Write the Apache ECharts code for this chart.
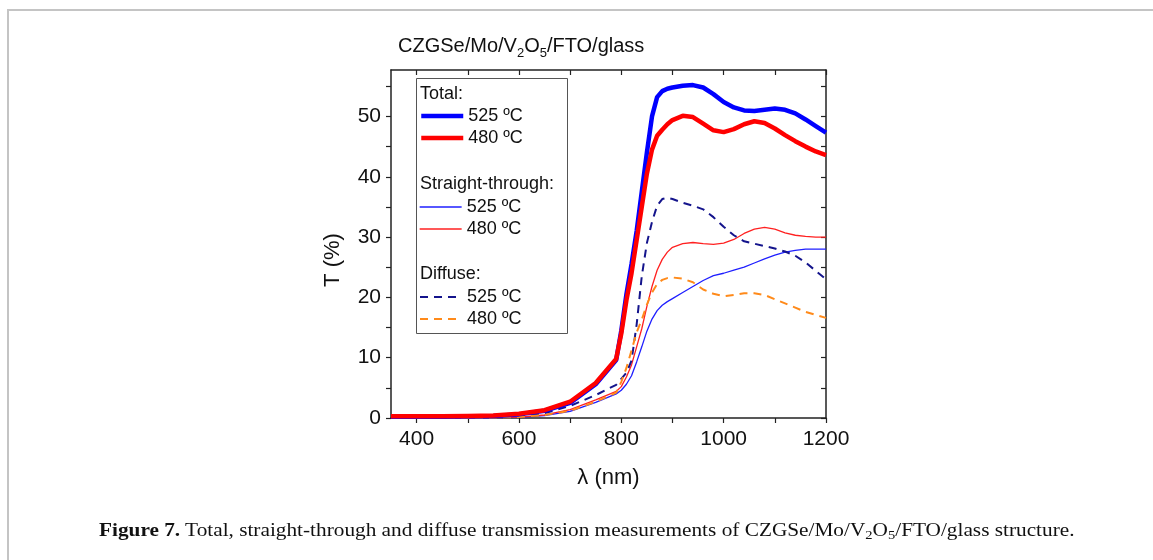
<!DOCTYPE html>
<html>
<head>
<meta charset="utf-8">
<script src="https://cdn.jsdelivr.net/npm/echarts@6/dist/echarts.min.js"></script>
<style>
  html, body { margin: 0; padding: 0; background: #fff; }
  #wrap { position: relative; width: 1153px; height: 560px; overflow: hidden; }
  #frame { position: absolute; left: 7px; top: 9px; width: 1200px; height: 600px;
           border-top: 2px solid #c4c4c4; border-left: 2px solid #c4c4c4; }
  #chart { position: absolute; left: 0; top: 0; width: 1153px; height: 560px; }
  #caption { position: absolute; left: 99px; top: 519px; white-space: nowrap;
             transform-origin: 0 0; transform: scaleX(1.12);
             font-family: "Liberation Serif", "DejaVu Serif", serif; font-size: 19px; color: #111; }
  #caption sub { font-size: 13px; vertical-align: -3px; line-height: 0; }
</style>
</head>
<body>
<div id="wrap">
  <div id="frame"></div>
  <div id="chart"></div>
  <div id="caption"><b>Figure 7.</b> Total, straight-through and diffuse transmission measurements of CZGSe/Mo/V<sub>2</sub>O<sub>5</sub>/FTO/glass structure.</div>
</div>
<script>
// ---- data ----
const wavelength = [350,400,450,500,550,600,650,700,750,790,800,810,820,830,840,850,860,870,880,890,900,920,940,960,980,1000,1020,1040,1060,1080,1100,1120,1140,1160,1180,1200];
const total525 = [0.2,0.2,0.2,0.3,0.35,0.6,1.2,2.5,5.6,9.6,14.5,20.5,25.5,31,37.5,44,50,53.2,54.2,54.6,54.8,55.1,55.2,54.8,53.7,52.4,51.5,51.0,50.9,51.1,51.3,51.1,50.5,49.5,48.4,47.3];
const total480 = [0.3,0.3,0.3,0.35,0.4,0.7,1.3,2.7,5.8,9.8,14,19.5,24,29.5,35,40.5,44.5,46.8,47.8,48.7,49.4,50.1,49.9,48.8,47.7,47.4,47.9,48.7,49.2,48.9,48.0,46.9,45.9,45.0,44.2,43.6];
const straight525 = [0,0,0,0,0.05,0.1,0.4,1.1,2.6,4.0,4.6,5.6,7.0,9.3,11.8,14.4,16.4,17.8,18.7,19.3,19.8,20.8,21.8,22.8,23.6,24.0,24.5,25.0,25.7,26.4,27.0,27.5,27.8,28.0,28.0,28.0];
const straight480 = [0,0,0,0,0.05,0.15,0.5,1.4,3.0,4.4,5.2,6.8,8.8,11.8,14.8,18.5,21.8,24.5,26.3,27.5,28.3,28.9,29.1,28.9,28.8,29.0,29.6,30.6,31.3,31.6,31.3,30.7,30.3,30.1,30.0,30.0];
const diffuse525 = [0.1,0.1,0.1,0.1,0.2,0.3,0.8,2.0,3.8,5.5,6.5,7.5,9.5,15.5,23.5,29,32.5,35.2,36.3,36.5,36.3,35.7,35.2,34.6,33.3,31.7,30.3,29.3,28.9,28.5,28.1,27.6,26.9,25.8,24.4,23.0];
const diffuse480 = [0.05,0.05,0.05,0.05,0.1,0.15,0.5,1.2,2.7,4.2,6.0,8.3,11.2,14.2,16.3,18.8,20.8,22.2,22.9,23.2,23.3,23.1,22.5,21.3,20.6,20.2,20.4,20.7,20.7,20.4,19.7,19.0,18.3,17.6,17.1,16.6];
const xTickValues = [400,500,600,700,800,900,1000,1100,1200];
const xLabelValues = [400,600,800,1000,1200];
const yTickValues = [0,5,10,15,20,25,30,35,40,45,50,55];
const yLabelValues = [0,10,20,30,40,50];
const legendHeaders = ['Total:', 'Straight-through:', 'Diffuse:'];
const tempLabels = ['525 ºC', '480 ºC'];

const pairs = ys => wavelength.map((x, i) => [x, ys[i]]);
const FONT = '"Liberation Sans", Arial, sans-serif';
const axisColor = '#222';

const chart = echarts.init(document.getElementById('chart'), null, {renderer: 'canvas'});

function mkSeries(name, ys, color, width, type) {
  return {
    name, type: 'line', data: pairs(ys), showSymbol: false, symbol: 'none',
    lineStyle: {color, width, type: type || 'solid'}, itemStyle: {color},
    emphasis: {disabled: true}, animation: false, z: 2
  };
}

const series = [
  mkSeries('S525', straight525, '#1f1fff', 1.3),
  mkSeries('S480', straight480, '#ff2020', 1.3),
  mkSeries('D525', diffuse525, '#14148c', 2, [8, 6]),
  mkSeries('D480', diffuse480, '#ff8a1a', 2, [8, 6]),
  mkSeries('T525', total525, '#0000ff', 4.5),
  mkSeries('T480', total480, '#ff0000', 4.5)
];

function mkLegend(items, top) {
  return {
    show: true, orient: 'vertical', left: 419, top, padding: 0,
    itemWidth: 42, itemHeight: 14, itemGap: 4, selectedMode: false,
    data: items,
    lineStyle: {width: 'inherit'},
    itemStyle: {color: 'rgba(0,0,0,0)', borderWidth: 0, opacity: 0},
    formatter: n => n.endsWith('525') ? tempLabels[0] : tempLabels[1],
    textStyle: {fontFamily: FONT, fontSize: 18, color: '#111', lineHeight: 18, padding: [0,0,0,0]}
  };
}

const option = {
  animation: false,
  backgroundColor: 'transparent',
  grid: {left: 391, right: 327, top: 70, bottom: 142, containLabel: false},
  title: {
    text: '{a|CZGSe/Mo/V}{s|2}{a|O}{s|5}{a|/FTO/glass}',
    left: 398, top: 32, padding: 0,
    textStyle: {
      fontWeight: 'normal',
      rich: {
        a: {fontFamily: FONT, fontSize: 20, fontWeight: 'normal', color: '#111', lineHeight: 28, verticalAlign: 'middle'},
        s: {fontFamily: FONT, fontSize: 13, fontWeight: 'normal', color: '#111', lineHeight: 13, verticalAlign: 'bottom'}
      }
    }
  },
  legend: [
    mkLegend(['T525', 'T480'], 107),
    mkLegend(['S525', 'S480'], 198),
    mkLegend(['D525', 'D480'], 288)
  ],
  xAxis: [
    {
      type: 'value', min: 350, max: 1200, position: 'bottom',
      name: 'λ (nm)', nameLocation: 'middle', nameGap: 49,
      nameTextStyle: {fontFamily: FONT, fontSize: 22, color: '#111'},
      axisLine: {show: true, onZero: false, lineStyle: {color: axisColor, width: 1.5}},
      axisTick: {show: true, inside: false, length: 5, customValues: xTickValues, lineStyle: {color: axisColor, width: 1.2}},
      axisLabel: {customValues: xLabelValues, formatter: v => String(v), fontFamily: FONT, fontSize: 21, color: '#111', margin: 11},
      splitLine: {show: false}
    },
    {
      type: 'value', min: 350, max: 1200, position: 'top',
      axisLine: {show: true, onZero: false, lineStyle: {color: axisColor, width: 1.5}},
      axisTick: {show: true, inside: true, length: 5, customValues: xTickValues, lineStyle: {color: axisColor, width: 1.2}},
      axisLabel: {show: false}, splitLine: {show: false}
    }
  ],
  yAxis: [
    {
      type: 'value', min: 0, max: 57.7, position: 'left',
      name: 'T (%)', nameLocation: 'middle', nameGap: 47,
      nameTextStyle: {fontFamily: FONT, fontSize: 22, color: '#111', padding: [0, 32, 0, 0]},
      axisLine: {show: true, onZero: false, lineStyle: {color: axisColor, width: 1.5}},
      axisTick: {show: true, inside: false, length: 5, customValues: yTickValues, lineStyle: {color: axisColor, width: 1.2}},
      axisLabel: {customValues: yLabelValues, formatter: v => String(v), fontFamily: FONT, fontSize: 21, color: '#111', margin: 10},
      splitLine: {show: false}
    },
    {
      type: 'value', min: 0, max: 57.7, position: 'right',
      axisLine: {show: true, onZero: false, lineStyle: {color: axisColor, width: 1.5}},
      axisTick: {show: true, inside: true, length: 5, customValues: yTickValues, lineStyle: {color: axisColor, width: 1.2}},
      axisLabel: {show: false}, splitLine: {show: false}
    }
  ],
  graphic: [
    {type: 'rect', left: 416, top: 78, shape: {x: 0, y: 0, width: 151, height: 255},
     style: {fill: '#fff', stroke: '#555', lineWidth: 1}, z: 3},
    {type: 'text', left: 420, top: 85, style: {text: legendHeaders[0], fontFamily: FONT, fontSize: 18, fill: '#111'}, z: 5},
    {type: 'text', left: 420, top: 175, style: {text: legendHeaders[1], fontFamily: FONT, fontSize: 18, fill: '#111'}, z: 5},
    {type: 'text', left: 420, top: 265, style: {text: legendHeaders[2], fontFamily: FONT, fontSize: 18, fill: '#111'}, z: 5}
  ],
  series
};
chart.setOption(option);
</script>
</body>
</html>
